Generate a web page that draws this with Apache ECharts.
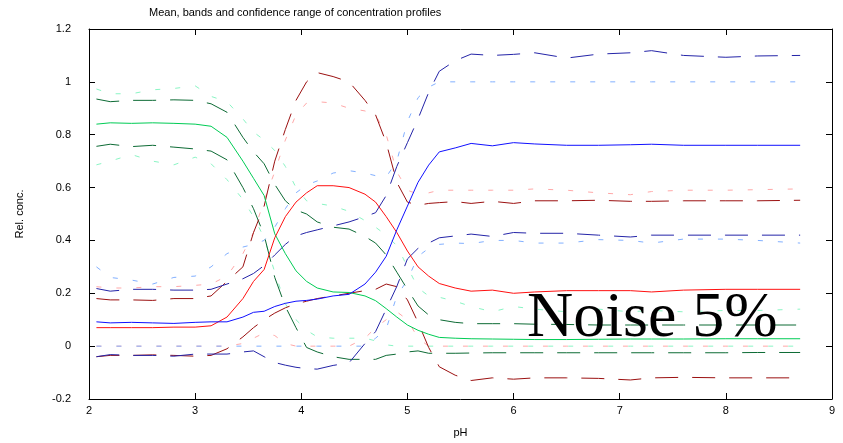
<!DOCTYPE html>
<html>
<head>
<meta charset="utf-8">
<script src="https://cdn.jsdelivr.net/npm/echarts@6/dist/echarts.min.js"></script>
<style>
html,body{margin:0;padding:0;background:#fff;}
#chart{width:843px;height:443px;}
</style>
</head>
<body>
<div id="chart"></div>
<script>
const pH = [2.07, 2.2, 2.4, 2.6, 2.8, 3.0, 3.15, 3.3, 3.45, 3.55, 3.65, 3.75, 3.85, 3.95, 4.05, 4.15, 4.3, 4.45, 4.6, 4.7, 4.8, 4.9, 5.0, 5.1, 5.2, 5.3, 5.45, 5.6, 5.8, 6.0, 6.2, 6.5, 6.8, 7.1, 7.3, 7.6, 8.0, 8.3, 8.7];

const greenMean = [0.84,0.845,0.843,0.845,0.843,0.84,0.832,0.79,0.70,0.635,0.57,0.425,0.35,0.285,0.245,0.22,0.205,0.203,0.19,0.172,0.142,0.11,0.08,0.06,0.045,0.033,0.03,0.028,0.027,0.026,0.025,0.025,0.026,0.027,0.027,0.027,0.028,0.028,0.028];
const greenBandHi = [0.935,0.925,0.93,0.93,0.932,0.93,0.917,0.885,0.79,0.735,0.69,0.612,0.55,0.515,0.5,0.47,0.45,0.443,0.415,0.39,0.345,0.28,0.215,0.152,0.118,0.1,0.09,0.085,0.085,0.085,0.083,0.082,0.08,0.08,0.08,0.08,0.08,0.08,0.08];
const greenBandLo = [0.756,0.764,0.755,0.76,0.753,0.746,0.738,0.705,0.6,0.52,0.42,0.26,0.15,0.07,-0.005,-0.022,-0.04,-0.05,-0.05,-0.05,-0.035,-0.03,-0.022,-0.018,-0.027,-0.027,-0.027,-0.026,-0.025,-0.025,-0.025,-0.025,-0.025,-0.025,-0.025,-0.025,-0.025,-0.024,-0.024];
const greenConfHi = [0.973,0.955,0.955,0.97,0.975,0.985,0.945,0.925,0.86,0.81,0.78,0.74,0.68,0.6,0.55,0.54,0.53,0.51,0.475,0.45,0.42,0.38,0.3,0.22,0.19,0.185,0.17,0.15,0.13,0.15,0.14,0.13,0.14,0.13,0.135,0.13,0.135,0.135,0.14];
const greenConfLo = [0.686,0.7,0.725,0.7,0.686,0.715,0.69,0.63,0.555,0.49,0.41,0.28,0.16,0.1,0.06,0.035,0.03,0.03,0.03,0.02,0.005,0,0,0,0,0,0,0,0,0,0,0,0,0,0,0,0,0,0];

const redMean = [0.07,0.07,0.07,0.07,0.072,0.072,0.077,0.11,0.18,0.245,0.29,0.41,0.49,0.545,0.58,0.607,0.607,0.6,0.575,0.545,0.49,0.43,0.36,0.3,0.265,0.237,0.22,0.208,0.212,0.2,0.205,0.21,0.21,0.21,0.205,0.212,0.215,0.215,0.215];
const redBandHi = [0.18,0.175,0.175,0.173,0.18,0.18,0.19,0.245,0.3,0.43,0.53,0.7,0.82,0.93,1.0,1.035,1.02,1.0,0.93,0.875,0.77,0.62,0.545,0.533,0.54,0.543,0.547,0.54,0.548,0.54,0.55,0.55,0.552,0.548,0.548,0.55,0.55,0.55,0.552];
const redBandLo = [-0.04,-0.035,-0.035,-0.033,-0.035,-0.038,-0.035,-0.01,0.035,0.07,0.1,0.125,0.145,0.16,0.17,0.18,0.19,0.2,0.21,0.215,0.235,0.225,0.175,0.09,-0.005,-0.078,-0.11,-0.13,-0.12,-0.125,-0.12,-0.12,-0.122,-0.128,-0.12,-0.118,-0.12,-0.12,-0.12];
const redConfHi = [0.225,0.22,0.22,0.225,0.225,0.23,0.235,0.265,0.35,0.43,0.55,0.66,0.78,0.875,0.92,0.925,0.92,0.9,0.89,0.875,0.8,0.66,0.59,0.575,0.58,0.59,0.59,0.59,0.59,0.59,0.595,0.59,0.58,0.573,0.585,0.59,0.59,0.592,0.595];
const redConfLo = [0,0,0,0,0,0,0,0,0.01,0.03,0.05,0.04,0.01,0,0,0,0,0,0.03,0.07,0.1,0.13,0.1,0.03,0,0,0,0,0,0,0,0,0,0,0,0,0,0,0];

const blueMean = [0.092,0.088,0.09,0.088,0.086,0.09,0.092,0.092,0.11,0.128,0.132,0.15,0.162,0.17,0.173,0.178,0.19,0.196,0.235,0.28,0.34,0.44,0.53,0.62,0.685,0.735,0.75,0.767,0.758,0.77,0.765,0.76,0.76,0.762,0.764,0.76,0.76,0.76,0.76];
const blueBandHi = [0.218,0.208,0.215,0.215,0.212,0.212,0.215,0.235,0.255,0.275,0.305,0.345,0.385,0.417,0.43,0.44,0.455,0.47,0.49,0.505,0.57,0.68,0.77,0.86,0.96,1.04,1.08,1.105,1.1,1.104,1.11,1.09,1.105,1.11,1.118,1.1,1.093,1.098,1.1];
const blueBandLo = [-0.04,-0.032,-0.035,-0.035,-0.038,-0.03,-0.03,-0.03,-0.022,-0.018,-0.04,-0.062,-0.072,-0.08,-0.085,-0.087,-0.073,-0.063,0.01,0.055,0.14,0.226,0.33,0.37,0.39,0.41,0.417,0.424,0.415,0.43,0.427,0.427,0.42,0.413,0.42,0.42,0.42,0.42,0.42];
const blueConfHi = [0.3,0.26,0.25,0.235,0.26,0.265,0.3,0.35,0.375,0.385,0.4,0.45,0.52,0.58,0.61,0.625,0.655,0.664,0.655,0.645,0.64,0.7,0.85,0.94,0.98,1.0,1.0,1.0,1.0,1.0,1.0,1.0,1.0,1.0,1.0,1.0,1.0,1.0,1.0];
const blueConfLo = [0,0,0,0,0,0,0,0,0,0,0,0,0,0,0,0,0,0,0,0.03,0.065,0.19,0.25,0.34,0.37,0.385,0.39,0.388,0.4,0.4,0.39,0.39,0.403,0.4,0.39,0.405,0.405,0.4,0.39];

const xTicks = [2, 3, 4, 5, 6, 7, 8, 9];
const yTicks = [-0.2, 0, 0.2, 0.4, 0.6, 0.8, 1, 1.2];

const COLORS = {
  green: {mean: '#00cc55', band: '#0d6b35', conf: '#8af5c4'},
  red:   {mean: '#ff1010', band: '#9b1010', conf: '#ffa8a8'},
  blue:  {mean: '#1010ff', band: '#2424a8', conf: '#82b0ff'}
};
const BAND_DASH = [23, 14];
const CONF_DASH = [5, 15];

function zip(ys) { return pH.map((x, i) => [x, ys[i]]); }
function mk(name, ys, color, dash, z) {
  return {
    name: name, type: 'line', data: zip(ys), showSymbol: false, symbol: 'none',
    smooth: false, z: z, silent: true,
    lineStyle: {color: color, width: 1, type: dash || 'solid'}
  };
}

const series = [
  mk('gConfHi', greenConfHi, COLORS.green.conf, CONF_DASH, 2),
  mk('gConfLo', greenConfLo, COLORS.green.conf, CONF_DASH, 2),
  mk('rConfHi', redConfHi, COLORS.red.conf, CONF_DASH, 2),
  mk('rConfLo', redConfLo, COLORS.red.conf, CONF_DASH, 2),
  mk('bConfHi', blueConfHi, COLORS.blue.conf, CONF_DASH, 2),
  mk('bConfLo', blueConfLo, COLORS.blue.conf, CONF_DASH, 2),
  mk('gBandHi', greenBandHi, COLORS.green.band, BAND_DASH, 3),
  mk('gBandLo', greenBandLo, COLORS.green.band, BAND_DASH, 3),
  mk('rBandHi', redBandHi, COLORS.red.band, BAND_DASH, 3),
  mk('rBandLo', redBandLo, COLORS.red.band, BAND_DASH, 3),
  mk('bBandHi', blueBandHi, COLORS.blue.band, BAND_DASH, 3),
  mk('bBandLo', blueBandLo, COLORS.blue.band, BAND_DASH, 3),
  mk('gMean', greenMean, COLORS.green.mean, null, 4),
  mk('rMean', redMean, COLORS.red.mean, null, 4),
  mk('bMean', blueMean, COLORS.blue.mean, null, 4)
];

const FONT = '"Liberation Sans", Arial, sans-serif';
const axisCommon = {
  axisLine: {show: true, onZero: false, lineStyle: {color: '#000', width: 1}},
  axisTick: {show: true, inside: true, length: 6, lineStyle: {color: '#000', width: 1}},
  splitLine: {show: false}
};

const chart = echarts.init(document.getElementById('chart'), null, {renderer: 'canvas'});
chart.setOption({
  animation: false,
  backgroundColor: '#fff',
  title: {
    text: 'Mean, bands and confidence range of concentration profiles',
    left: 144, top: 2,
    textStyle: {fontSize: 11, fontWeight: 'normal', color: '#000', fontFamily: FONT}
  },
  grid: {left: 89, right: 11, top: 29, bottom: 39, containLabel: false},
  xAxis: [
    Object.assign({
      type: 'value', min: xTicks[0], max: xTicks[xTicks.length - 1], interval: 1,
      position: 'bottom', name: 'pH', nameLocation: 'middle', nameGap: 28,
      nameTextStyle: {fontSize: 11, color: '#000', fontFamily: FONT},
      axisLabel: {color: '#000', fontSize: 11, fontFamily: FONT, margin: 6}
    }, axisCommon),
    Object.assign({
      type: 'value', min: xTicks[0], max: xTicks[xTicks.length - 1], interval: 1,
      position: 'top', axisLabel: {show: false}
    }, axisCommon)
  ],
  yAxis: [
    Object.assign({
      type: 'value', min: yTicks[0], max: yTicks[yTicks.length - 1], interval: 0.2,
      position: 'left', name: 'Rel. conc.', nameLocation: 'middle', nameGap: 64, nameRotate: 90,
      nameTextStyle: {fontSize: 11, color: '#000', fontFamily: FONT},
      axisLabel: {color: '#000', fontSize: 11, fontFamily: FONT, margin: 18,
        formatter: v => String(Math.round(v * 10) / 10)}
    }, axisCommon),
    Object.assign({
      type: 'value', min: yTicks[0], max: yTicks[yTicks.length - 1], interval: 0.2,
      position: 'right', axisLabel: {show: false}
    }, axisCommon)
  ],
  graphic: [{
    type: 'text', x: 527, y: 319, z: 100,
    style: {text: 'Noise 5%', font: '64px "Liberation Serif", "Times New Roman", serif',
      fill: '#000', textVerticalAlign: 'middle', verticalAlign: 'middle'}
  }],
  series: series
});
</script>
</body>
</html>
